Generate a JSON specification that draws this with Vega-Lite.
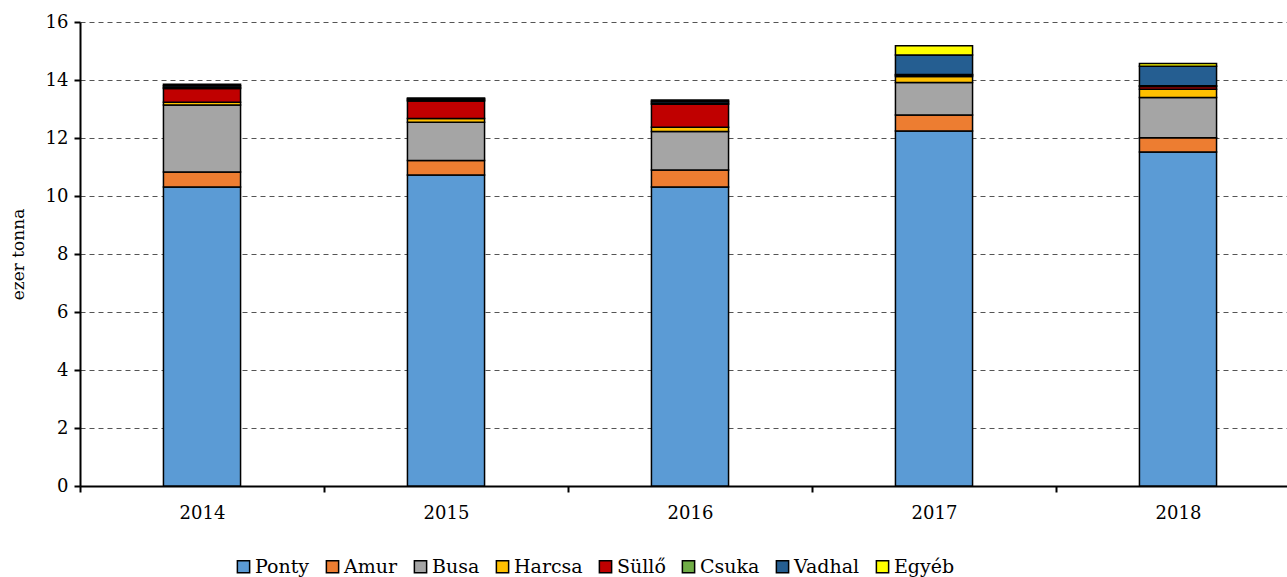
{
  "$schema": "https://vega.github.io/schema/vega-lite/v6.json",
  "width": 1220,
  "height": 464,
  "autosize": "none",
  "padding": {"left": 80, "top": 22, "right": 0, "bottom": 91},
  "background": "white",
  "config": {
    "font": "DejaVu Serif",
    "view": {"stroke": null},
    "axis": {"labelFont": "DejaVu Serif", "titleFont": "DejaVu Serif"},
    "legend": {"labelFont": "DejaVu Serif"}
  },
  "data": {"values": [
    {"ev": "2014", "faj": "Ponty", "o": 1, "v": 10.31},
    {"ev": "2014", "faj": "Amur", "o": 2, "v": 0.52},
    {"ev": "2014", "faj": "Busa", "o": 3, "v": 2.31},
    {"ev": "2014", "faj": "Harcsa", "o": 4, "v": 0.09},
    {"ev": "2014", "faj": "Süllő", "o": 5, "v": 0.48},
    {"ev": "2014", "faj": "Csuka", "o": 6, "v": 0.03},
    {"ev": "2014", "faj": "Vadhal", "o": 7, "v": 0.06},
    {"ev": "2014", "faj": "Egyéb", "o": 8, "v": 0.05},
    {"ev": "2015", "faj": "Ponty", "o": 1, "v": 10.72},
    {"ev": "2015", "faj": "Amur", "o": 2, "v": 0.5},
    {"ev": "2015", "faj": "Busa", "o": 3, "v": 1.32},
    {"ev": "2015", "faj": "Harcsa", "o": 4, "v": 0.13},
    {"ev": "2015", "faj": "Süllő", "o": 5, "v": 0.61},
    {"ev": "2015", "faj": "Csuka", "o": 6, "v": 0.03},
    {"ev": "2015", "faj": "Vadhal", "o": 7, "v": 0.04},
    {"ev": "2015", "faj": "Egyéb", "o": 8, "v": 0.03},
    {"ev": "2016", "faj": "Ponty", "o": 1, "v": 10.31},
    {"ev": "2016", "faj": "Amur", "o": 2, "v": 0.59},
    {"ev": "2016", "faj": "Busa", "o": 3, "v": 1.32},
    {"ev": "2016", "faj": "Harcsa", "o": 4, "v": 0.15},
    {"ev": "2016", "faj": "Süllő", "o": 5, "v": 0.79},
    {"ev": "2016", "faj": "Csuka", "o": 6, "v": 0.05},
    {"ev": "2016", "faj": "Vadhal", "o": 7, "v": 0.06},
    {"ev": "2016", "faj": "Egyéb", "o": 8, "v": 0.04},
    {"ev": "2017", "faj": "Ponty", "o": 1, "v": 12.24},
    {"ev": "2017", "faj": "Amur", "o": 2, "v": 0.55},
    {"ev": "2017", "faj": "Busa", "o": 3, "v": 1.12},
    {"ev": "2017", "faj": "Harcsa", "o": 4, "v": 0.21},
    {"ev": "2017", "faj": "Süllő", "o": 5, "v": 0.04},
    {"ev": "2017", "faj": "Csuka", "o": 6, "v": 0.03},
    {"ev": "2017", "faj": "Vadhal", "o": 7, "v": 0.67},
    {"ev": "2017", "faj": "Egyéb", "o": 8, "v": 0.32},
    {"ev": "2018", "faj": "Ponty", "o": 1, "v": 11.52},
    {"ev": "2018", "faj": "Amur", "o": 2, "v": 0.49},
    {"ev": "2018", "faj": "Busa", "o": 3, "v": 1.39},
    {"ev": "2018", "faj": "Harcsa", "o": 4, "v": 0.28},
    {"ev": "2018", "faj": "Süllő", "o": 5, "v": 0.1},
    {"ev": "2018", "faj": "Csuka", "o": 6, "v": 0.02},
    {"ev": "2018", "faj": "Vadhal", "o": 7, "v": 0.67},
    {"ev": "2018", "faj": "Egyéb", "o": 8, "v": 0.1}
  ]},
  "mark": {"type": "bar", "width": {"band": 0.316}, "stroke": "black", "strokeWidth": 1.5},
  "encoding": {
    "x": {
      "field": "ev", "type": "nominal",
      "scale": {"paddingInner": 0, "paddingOuter": 0},
      "axis": {
        "title": null, "labelAngle": 0, "tickBand": "extent",
        "domainColor": "black", "domainWidth": 2, "tickColor": "black", "tickWidth": 2, "tickSize": 6,
        "labelFontSize": 18, "labelColor": "black", "labelPadding": 12, "grid": false
      }
    },
    "y": {
      "field": "v", "type": "quantitative", "aggregate": "sum", "stack": "zero",
      "scale": {"domain": [0, 16], "nice": false},
      "axis": {
        "title": "ezer tonna", "titleFontSize": 17, "titleFontWeight": "normal", "titleColor": "black", "titlePadding": 18,
        "values": [0, 2, 4, 6, 8, 10, 12, 14, 16],
        "domainColor": "black", "domainWidth": 2, "tickColor": "black", "tickWidth": 2, "tickSize": 6,
        "labelFontSize": 18, "labelColor": "black", "labelPadding": 6,
        "grid": true, "gridColor": "#555555", "gridDash": [5, 4], "gridWidth": 1
      }
    },
    "color": {
      "field": "faj", "type": "nominal",
      "scale": {
        "domain": ["Ponty", "Amur", "Busa", "Harcsa", "Süllő", "Csuka", "Vadhal", "Egyéb"],
        "range": ["#5B9BD5", "#ED7D31", "#A5A5A5", "#FFC000", "#C00000", "#70AD47", "#255E91", "#FFFF00"]
      },
      "legend": {
        "title": null, "orient": "none", "direction": "horizontal", "columns": 8,
        "legendX": 154, "legendY": 535,
        "symbolType": "square", "symbolSize": 150, "symbolStrokeColor": "black", "symbolStrokeWidth": 1.5, "symbolOpacity": 1,
        "labelFontSize": 19, "labelColor": "black", "labelOffset": 2, "columnPadding": 13
      }
    },
    "order": {"field": "o", "type": "quantitative"}
  }
}
